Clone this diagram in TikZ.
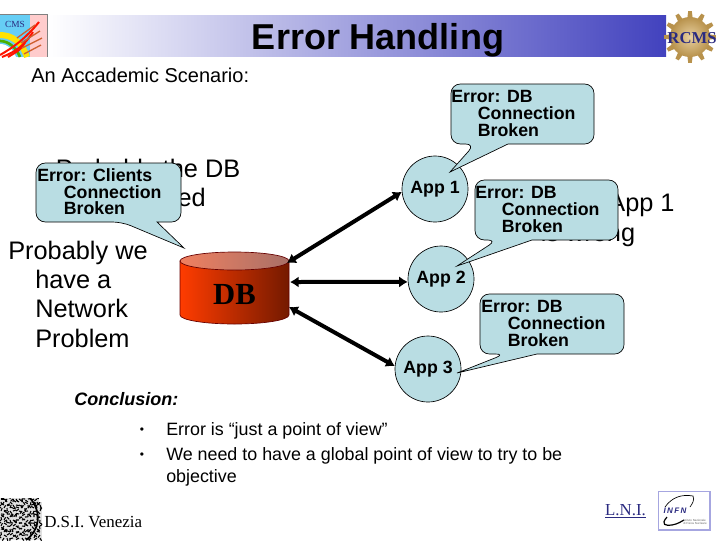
\documentclass[tikz,border=0pt]{standalone}
\usepackage{fontspec}
\setmainfont{Liberation Sans}
\newfontfamily\serifx{Liberation Serif}
\usetikzlibrary{arrows.meta,calc}
\definecolor{aqua}{HTML}{B9DDE3}
\definecolor{barblue}{HTML}{4242BE}
\definecolor{navyx}{HTML}{2A2A80}
\definecolor{dbleft}{HTML}{FF3C00}
\definecolor{dbright}{HTML}{741A00}
\definecolor{dbtopl}{HTML}{F08060}
\definecolor{dbtopr}{HTML}{A87068}
\definecolor{gearc}{HTML}{B8924C}
\definecolor{gearl}{HTML}{E8D0A0}
\tikzset{
  body/.style={font=\fontsize{19}{22}\selectfont,align=center,inner sep=0pt},
  bubbletext/.style={font=\fontsize{13.3}{12.4}\selectfont\bfseries,align=left,inner sep=0pt,anchor=north west},
  bubble/.style={draw=black,fill=aqua,line width=0.5pt},
  appnode/.style={circle,draw=black,fill=aqua,line width=0.5pt,minimum size=49.5pt,inner sep=0pt,font=\fontsize{13.3}{15}\selectfont\bfseries},
  link/.style={line width=3pt,{Latex[length=6.5pt,width=8.5pt]}-{Latex[length=6.5pt,width=8.5pt]}},
}
\newcommand{\bubbleshape}[8]{% x1,y1,x2,y2,t1,tipx,tipy,t2
  \draw[bubble] (#5,#4) -- (#6,#7) -- (#8,#4) -- ($(#8,#4)+(1,0)$)
    [rounded corners=7pt] -- (#3,#4) -- (#3,#2) -- (#1,#2) -- (#1,#4) -- cycle;
}
\begin{document}
\begin{tikzpicture}[x=0.75pt,y=-0.75pt]
\useasboundingbox (0,0) rectangle (720,540);
\fill[white] (0,0) rectangle (720,540);
% title bar
\shade[left color=white,right color=barblue] (48,15) rectangle (666,56.5);
\node[inner sep=0pt,font=\fontsize{27}{30}\selectfont\bfseries] (title) at (378,40) {Error Handling};
% CMS logo
\begin{scope}
  \clip (0,14) rectangle (48,57);
  \fill[cyan!60!white] (0,14) rectangle (48,57);
  \fill[red!20!white] (30,14) rectangle (48,57);
  \draw[yellow!85!orange,line width=4.5pt] (0,35) .. controls (12,35) and (22,42) .. (27,57);
  \draw[green!55!black!70!yellow,line width=2pt] (0,41) .. controls (8,41) and (16,47) .. (20,57);
  \fill[white] (0,44) .. controls (8,44) and (14,50) .. (16,57) -- (0,57) -- cycle;
  \draw[red!85!orange,line width=1.5pt] (0,55) .. controls (14,47) and (26,38) .. (39,22);
  \draw[red!85!orange,line width=1.5pt] (2,57) .. controls (15,52) and (24,46) .. (33,32);
  \draw[red!85!orange,line width=1.5pt] (8,57) .. controls (16,52) and (22,50) .. (26,40);
  \draw[brown!75!red,line width=1pt] (17,38) -- (35,25);
  \draw[brown!75!red,line width=1pt] (21,43) -- (40,31);
  \draw[brown!75!red,line width=1pt] (22,48) -- (42,38);
  \draw[brown!75!red,line width=1pt] (24,54) -- (41,45);
\end{scope}
\draw[gray,line width=1.2pt] (0,14.6) -- (47.4,14.6) -- (47.4,57);
\node[inner sep=0pt,font=\serifx\fontsize{7}{8}\selectfont,text=navyx] (cms) at (15,24) {CMS};
% RCMS gear
\foreach \a in {0,30,...,330}{
  \fill[gearc] ($(690,37)+(\a+8:19 and 19)$) -- ($(690,37)+(\a+4:26 and 26)$) -- ($(690,37)+(\a-4:26 and 26)$) -- ($(690,37)+(\a-8:19 and 19)$) -- cycle;
}
\shade[inner color=gearl,outer color=gearc] (690,37) circle[radius=15pt];
\node[inner sep=0pt,font=\serifx\fontsize{12.5}{14}\selectfont\bfseries,text=navyx] (rcms) at (692,38) {RCMS};
% top text
\node[font=\fontsize{15}{19}\selectfont,inner sep=0pt,anchor=base west] (sub) at (31,82) {An Accademic Scenario:};
% body text partly hidden by the bubbles
\node[body] (t1) at (148,183) {Probably the DB\\is crashed};
\node[body] (t2) at (588,220) {Probably App 1\\is wrong};
\node[body,align=left,anchor=base west] (t3) at (8,347) {Probably we\\\hspace*{20.25pt}have a\\\hspace*{20.25pt}Network\\\hspace*{20.25pt}Problem};
% DB
\shade[left color=dbleft,right color=dbright,draw=black!60!red,line width=0.5pt]
  (180,261) -- (180,315) arc[start angle=180,end angle=0,x radius=54.5,y radius=9] -- (289,261) -- cycle;
\shade[left color=dbtopl,right color=dbtopr,draw=black!60!red,line width=0.5pt]
  (234.5,261) ellipse[x radius=54.5,y radius=9];
\node[inner sep=0pt,font=\serifx\fontsize{23}{25}\selectfont\bfseries,text=black] (db) at (234.5,294) {DB};
\coordinate (dbA) at (287,263);
\coordinate (dbB) at (290,282);
\coordinate (dbC) at (289,307);
% apps
\node[appnode] (a1) at (435,189) {App 1};
\node[appnode] (a2) at (441,279) {App 2};
\node[appnode] (a3) at (428,369) {App 3};
\draw[link] (dbA) -- (a1.185);
\draw[link] (dbB) -- (a2.185);
\draw[link] (dbC) -- (a3.175);
% bubbles
\bubbleshape{36}{163}{181}{222}{122}{184}{248}{157}
\node[bubbletext] (b1) at (37,168.5) {Error: Clients\\\hspace*{20pt}Connection\\\hspace*{20pt}Broken};
\bubbleshape{451}{84}{594}{144}{475}{450}{172}{508}
\node[bubbletext] (b2) at (451,90.5) {Error: DB\\\hspace*{20pt}Connection\\\hspace*{20pt}Broken};
\bubbleshape{475}{180}{618}{240}{497}{457}{266}{532}
\node[bubbletext] (b3) at (475,186.5) {Error: DB\\\hspace*{20pt}Connection\\\hspace*{20pt}Broken};
\bubbleshape{480}{294}{624}{354}{505}{457}{373}{537}
\node[bubbletext] (b4) at (481,300.5) {Error: DB\\\hspace*{20pt}Connection\\\hspace*{20pt}Broken};
% conclusion
\node[inner sep=0pt,anchor=base west,font=\fontsize{13.5}{15}\selectfont\bfseries\itshape] (conc) at (74,405) {Conclusion:};
\node[inner sep=0pt,anchor=base,font=\fontsize{9}{11}\selectfont] (d1) at (142,433) {•};
\node[inner sep=0pt,anchor=base,font=\fontsize{9}{11}\selectfont] (d2) at (142,458) {•};
\node[inner sep=0pt,anchor=base west,font=\fontsize{13.4}{15}\selectfont] (c1) at (166,435) {Error is “just a point of view”};
\node[inner sep=0pt,anchor=base west,align=left,font=\fontsize{13.4}{16}\selectfont] (c2) at (166,482) {We need to have a global point of view to try to be\\objective};
% lion seal
\begin{scope}
  \clip (0,498) rectangle (42,540);
  \fill[black!12] (0,498) rectangle (42,540);
  \foreach \i in {0,...,13}{
    \foreach \j in {0,...,13}{
      \pgfmathsetmacro{\ang}{mod(\i*\i*31+\j*73+\i*\j*17,360)}
      \draw[black,line width=0.8pt] (\i*3+1,498+\j*3+1) -- ++(\ang:3.2);
    }
  }
  \draw[black,line width=1.3pt] (30,498) .. controls (42,512) and (40,530) .. (26,540);
  \fill[white] (39,498) rectangle (42,502);
\end{scope}
\node[inner sep=0pt,anchor=base west,font=\serifx\fontsize{12.7}{14}\selectfont] (dsi) at (44,527) {D.S.I. Venezia};
% LNI
\node[inner sep=0pt,anchor=base,font=\serifx\fontsize{12.6}{13}\selectfont,text=navyx] (lni) at (625.5,515) {\underline{L.N.I.}};
% INFN
\draw[draw=black!35!blue!35,fill=white,line width=1pt] (658.5,491.5) rectangle (710,530);
\node[inner sep=0pt,font=\fontsize{6}{7}\selectfont\bfseries\itshape,text=navyx] (infn) at (675,511) {I\,N\,F\,N};
\draw[black,line width=0.5pt] (665,507) .. controls (672,497) and (682,494) .. (693,496) .. controls (695,500) and (692,504) .. (690,507);
\draw[black,line width=0.9pt] (667,517) .. controls (660,525) and (666,526) .. (672,525) .. controls (678,524) and (682,521) .. (684,520);
\node[inner sep=0pt,align=left,font=\fontsize{2.2}{2.8}\selectfont,text=black!60] (infn2) at (695,522) {Istituto Nazionale\\di Fisica Nucleare};
\end{tikzpicture}
\end{document}
